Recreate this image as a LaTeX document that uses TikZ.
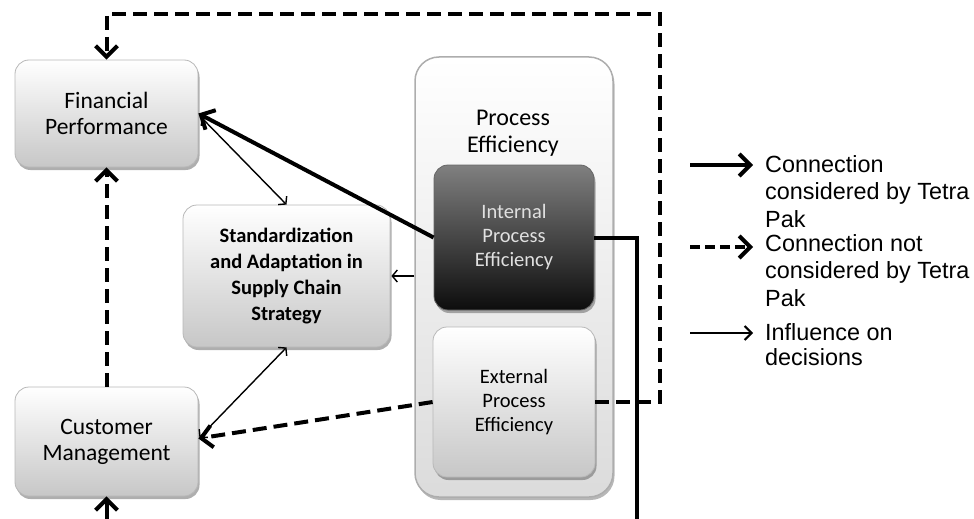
\documentclass[tikz,border=0pt]{standalone}
\usepackage{fontspec}
\setmainfont{Carlito}
\newfontfamily\legfont{Liberation Sans}
\usetikzlibrary{arrows.meta,shadows,calc}
\tikzset{
  box/.style={rounded corners=14pt, draw=black!28, line width=0.8pt, top color=white, bottom color=black!22,
    drop shadow={shadow xshift=1.5pt, shadow yshift=-3pt, opacity=0.45, fill=black!70},
    align=center, inner sep=0pt, font=\fontsize{23.5}{26}\selectfont},
  darkbox/.style={box, top color=black!50, bottom color=black!95, draw=black!60, text=black!12,
    font=\fontsize{20.5}{24}\selectfont},
  lightbox/.style={box, font=\fontsize{20.5}{24}\selectfont},
  container/.style={rounded corners=24pt, draw=black!32, line width=1.5pt, top color=white, bottom color=black!14,
    drop shadow={shadow xshift=1.5pt, shadow yshift=-3pt, opacity=0.4, fill=black!70}},
  thickarrow/.style={line width=4pt, -{Straight Barb[length=11pt,width=22pt]}},
  thickdash/.style={thickarrow, dash pattern=on 14pt off 7pt},
  thickline/.style={line width=4pt},
  thinarrow/.style={line width=1.4pt, -{Straight Barb[length=5pt,width=12pt]}},
  thinboth/.style={line width=1.4pt, {Straight Barb[length=5pt,width=12pt]}-{Straight Barb[length=5pt,width=12pt]}},
  legtext/.style={anchor=base west, align=left, inner sep=0pt, font=\legfont\fontsize{23.4}{27.5}\selectfont}
}
\begin{document}
\begin{tikzpicture}[x=1pt,y=-1pt]
\useasboundingbox (0,0) rectangle (974,519);
% container
\node[container, minimum width=198pt, minimum height=440pt] (PE) at (514,277) {};
\node[align=center, font=\fontsize{24}{27}\selectfont] (PEl) at (513,133) {Process\\Efficiency};
\node[darkbox, minimum width=160pt, minimum height=145pt] (IPE) at (514,237.5) {Internal\\Process\\Efficiency};
\node[lightbox, minimum width=162pt, minimum height=150pt] (EPE) at (514,402) {External\\Process\\Efficiency};
% left boxes
\node[box, minimum width=183pt, minimum height=107pt] (FP) at (106.5,113.5) {Financial\\Performance};
\node[box, minimum width=207pt, minimum height=142pt, font=\bfseries\fontsize{20.5}{26}\selectfont] (SA) at (286.5,276) {Standardization\\and Adaptation in\\Supply Chain\\Strategy};
\node[box, minimum width=183pt, minimum height=109pt] (CM) at (106.5,441.5) {Customer\\Management};
% coordinates for routing beyond the picture
\coordinate (tr) at (660,14);
\coordinate (br) at (637,519);
\coordinate (bl) at (106.5,519);
% connectors
\draw[thickdash] (EPE.east) -| (tr) -| (FP.north);
\draw[thickdash] (CM.north) -- (FP.south);
\draw[thickdash] (EPE.west) -- ($(CM.east)+(0,-3)$);
\draw[thickarrow] (IPE.west) -- (FP.east);
\draw[thickline] (IPE.east) -| (br);
\draw[thickarrow] (bl) -- (CM.south);
\draw[thinboth] ($(FP.east)+(3,4)$) -- (SA.north);
\draw[thinboth] (SA.south) -- ($(CM.east)+(1,-4)$);
\draw[thinarrow] (PE.west |- SA.east) -- ($(SA.east)+(1,0)$);
% legend (anchor = baseline of last line)
\node[legtext] (L1) at (765,227) {Connection\\considered by Tetra\\Pak};
\node[legtext] (L2) at (765,306) {Connection not\\considered by Tetra\\Pak};
\node[legtext, font=\legfont\fontsize{23.4}{25}\selectfont] (L3) at (765,365) {Influence on\\decisions};
\coordinate (a1) at (690,165);
\coordinate (a2) at (690,247);
\coordinate (a3) at (690,333);
\draw[thickarrow] (a1) -- ($(a1 -| L1.west)+(-12,0)$);
\draw[line width=4pt, dash pattern=on 10pt off 5pt, -{Straight Barb[length=11pt,width=22pt]}] (a2) -- ($(a2 -| L2.west)+(-12,0)$);
\draw[line width=2pt, -{Straight Barb[length=7pt,width=14pt]}] (a3) -- ($(a3 -| L3.west)+(-12,0)$);
\end{tikzpicture}
\end{document}
